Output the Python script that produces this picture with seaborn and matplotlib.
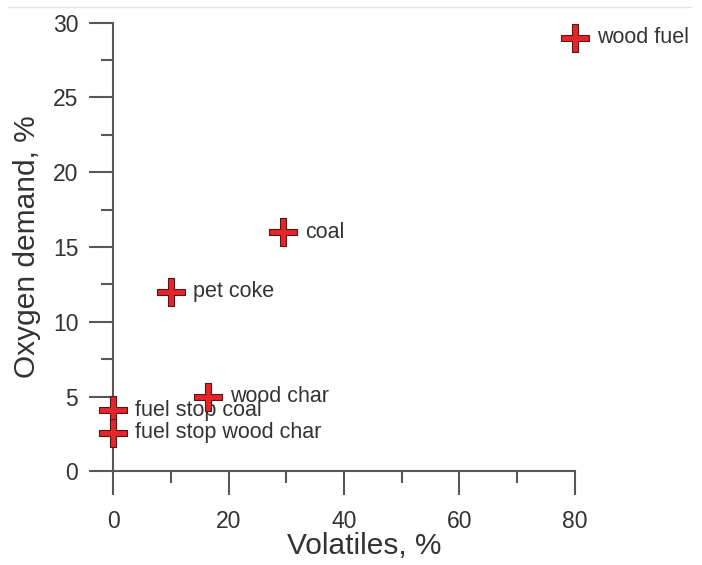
import matplotlib
matplotlib.use("Agg")
import matplotlib.pyplot as plt
from matplotlib.path import Path
from matplotlib.lines import Line2D
from matplotlib.ticker import MultipleLocator
import pandas as pd
import seaborn as sns

sns.set_style("ticks")
plt.rcParams['font.family'] = ['Liberation Sans', 'DejaVu Sans']

# data
fuels = ["wood fuel", "coal", "pet coke", "wood char", "fuel stop coal", "fuel stop wood char"]
volatiles = [80, 29.5, 10, 16.5, 0, 0]
oxygen = [29, 16, 12, 5, 4.1, 2.6]

df = pd.DataFrame({"fuel": fuels, "volatiles": volatiles, "oxygen": oxygen})

# plus marker with slim arms
a = 0.22
plus = Path([(-a, -1), (a, -1), (a, -a), (1, -a), (1, a), (a, a), (a, 1),
             (-a, 1), (-a, a), (-1, a), (-1, -a), (-a, -a), (-a, -1)], closed=True)

grey = "#58585a"
txt = "#333333"

fig = plt.figure(figsize=(7.02, 5.65), dpi=100)
ax = fig.add_axes([0.161, 0.1655, 0.658, 0.7945])

sns.scatterplot(data=df, x="volatiles", y="oxygen", ax=ax, marker=plus, s=400,
                color="#e3262a", edgecolor="#5a1414", linewidth=0.8, zorder=5, clip_on=False)

for f, x, y in zip(fuels, volatiles, oxygen):
    ax.annotate(f, (x, y), xytext=(16, 0), textcoords="offset points",
                va="center", ha="left", fontsize=15.5, color=txt)

ax.set_xlim(0, 80)
ax.set_ylim(0, 30)
ax.xaxis.set_major_locator(MultipleLocator(20))
ax.xaxis.set_minor_locator(MultipleLocator(10))
ax.yaxis.set_major_locator(MultipleLocator(5))
ax.yaxis.set_minor_locator(MultipleLocator(2.5))

sns.despine(ax=ax)
for sp in ["left", "bottom"]:
    ax.spines[sp].set_color(grey)
    ax.spines[sp].set_linewidth(1.5)

ax.tick_params(which="major", direction="out", length=17, width=1.5, color=grey,
               labelsize=16.5, labelcolor=txt)
ax.tick_params(which="minor", direction="out", length=8.6, width=1.5, color=grey)
ax.tick_params(axis="x", which="major", pad=11)
ax.tick_params(axis="y", which="major", pad=8)

ax.set_xlabel("Volatiles, %", fontsize=21.5, color=txt)
ax.set_ylabel("Oxygen demand, %", fontsize=21.5, color=txt)
ax.xaxis.set_label_coords(0.543, -0.135)
ax.yaxis.set_label_coords(-0.155, 0.5)

fig.add_artist(Line2D([0.012, 0.985], [0.988, 0.988], color="#e4e4e4", linewidth=1))

fig.savefig("out.png", dpi=100)
